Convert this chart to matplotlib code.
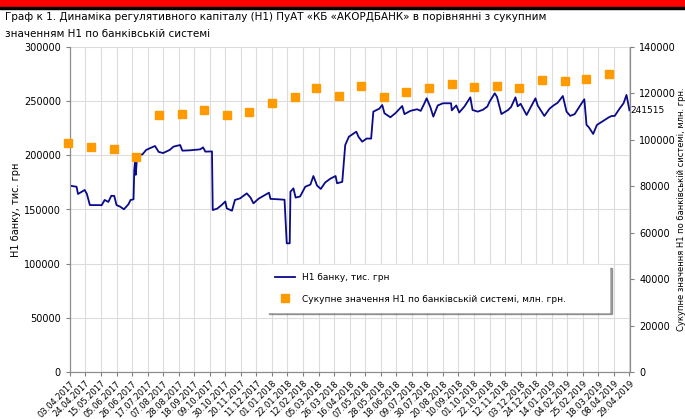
import pandas as pd
import matplotlib.pyplot as plt
from matplotlib.patches import Rectangle

# дані
bank_dates = [
    '2017-04-03', '2017-04-12', '2017-04-14', '2017-04-23', '2017-04-26', '2017-04-30',
    '2017-05-16', '2017-05-20', '2017-05-25', '2017-05-29', '2017-06-02', '2017-06-05',
    '2017-06-10', '2017-06-15', '2017-06-21', '2017-06-24', '2017-06-28', '2017-06-29',
    '2017-06-30', '2017-07-01', '2017-07-03', '2017-07-10', '2017-07-15', '2017-07-20',
    '2017-07-27', '2017-08-01', '2017-08-07', '2017-08-16', '2017-08-21', '2017-08-30',
    '2017-09-02', '2017-09-12', '2017-09-26', '2017-09-30', '2017-10-03', '2017-10-12',
    '2017-10-13', '2017-10-19', '2017-10-25', '2017-10-30', '2017-11-01', '2017-11-08',
    '2017-11-12', '2017-11-19', '2017-11-28', '2017-12-03', '2017-12-07', '2017-12-14',
    '2017-12-28', '2017-12-30', '2018-01-10', '2018-01-18', '2018-01-21', '2018-01-25',
    '2018-01-26', '2018-01-30', '2018-02-02', '2018-02-08', '2018-02-15', '2018-02-22',
    '2018-02-26', '2018-03-03', '2018-03-08', '2018-03-14', '2018-03-21', '2018-03-28',
    '2018-03-30', '2018-04-06', '2018-04-10', '2018-04-15', '2018-04-25', '2018-04-28',
    '2018-05-03', '2018-05-09', '2018-05-15', '2018-05-18', '2018-05-26', '2018-05-30',
    '2018-06-02', '2018-06-10', '2018-06-17', '2018-06-26', '2018-06-29', '2018-07-07',
    '2018-07-16', '2018-07-21', '2018-07-26', '2018-07-29', '2018-08-03', '2018-08-07',
    '2018-08-13', '2018-08-20', '2018-08-31', '2018-09-01', '2018-09-07', '2018-09-11',
    '2018-09-18', '2018-09-26', '2018-09-29', '2018-10-06', '2018-10-13', '2018-10-19',
    '2018-10-22', '2018-10-29', '2018-11-01', '2018-11-07', '2018-11-16', '2018-11-20',
    '2018-11-26', '2018-11-29', '2018-12-03', '2018-12-11', '2018-12-17', '2018-12-23',
    '2018-12-26', '2019-01-04', '2019-01-11', '2019-01-16', '2019-01-22', '2019-01-29',
    '2019-02-03', '2019-02-08', '2019-02-14', '2019-02-21', '2019-02-27', '2019-03-02',
    '2019-03-05', '2019-03-11', '2019-03-16', '2019-03-25', '2019-04-01', '2019-04-05',
    '2019-04-09', '2019-04-16', '2019-04-21', '2019-04-25', '2019-04-29',
]
bank_values = [
    172000, 171000, 164300, 168000, 164300, 154100,
    154000, 158800, 157000, 162700, 162500, 154100,
    152600, 150200, 154700, 158800, 159400, 186400,
    194100, 182000, 200300, 200800, 204900, 206500,
    208600, 203100, 202100, 205000, 208000, 209500,
    204300, 204600, 205500, 207300, 203400, 203600,
    149500, 150800, 154100, 157400, 151000, 148900,
    158800, 160300, 164900, 161000, 155700, 160000,
    165500, 159800, 159400, 159000, 118800, 118800,
    166400, 169500, 161000, 162000, 171000, 173000,
    180900, 172000, 169000, 175000, 178500, 180900,
    174200, 175500, 209500, 217200, 221800, 217000,
    212600, 215500, 215400, 240300, 243000, 246400,
    238800, 235100, 239000, 245500, 238000, 241000,
    242500, 241000, 248000, 252600, 244500, 235700,
    246000, 248000, 248000, 241500, 246000, 239500,
    245000, 253500, 241800, 240300, 242000, 245000,
    249500, 257200, 254000, 238100, 241800, 244500,
    253500, 245200, 247500, 237200, 245000, 252600,
    246000, 236300, 243000, 245800, 248500, 254700,
    240300, 236400, 238000, 245500, 251700, 228000,
    226000, 219700, 228000, 232000, 235000, 236300,
    236300, 243400, 248000, 255700, 241515,
]

system_dates = pd.date_range('2017-04-01', '2019-04-01', freq='MS')
system_values = [
    98800, 97000, 96000, 92500, 110600, 111300, 112700, 110800, 112100,
    115700, 118600, 122200, 118800, 123200, 118300, 120500, 122200,
    123900, 122600, 123200, 122200, 125800, 125400, 126400, 128500,
]

tick_labels = [
    '03.04.2017', '24.04.2017', '15.05.2017', '05.06.2017', '26.06.2017',
    '17.07.2017', '07.08.2017', '28.08.2017', '18.09.2017', '09.10.2017',
    '30.10.2017', '20.11.2017', '11.12.2017', '01.01.2018', '22.01.2018',
    '12.02.2018', '05.03.2018', '26.03.2018', '16.04.2018', '07.05.2018',
    '28.05.2018', '18.06.2018', '09.07.2018', '30.07.2018', '20.08.2018',
    '10.09.2018', '01.10.2018', '22.10.2018', '12.11.2018', '03.12.2018',
    '24.12.2018', '14.01.2019', '04.02.2019', '25.02.2019', '18.03.2019',
    '08.04.2019', '29.04.2019',
]

bank_label = 'Н1 банку, тис. грн'
system_label = 'Сукупне значення Н1 по банківській системі, млн. грн.'

plt.rcParams['font.family'] = ['DejaVu Sans']

fig = plt.figure(figsize=(6.85, 4.19), dpi=100)
ax = fig.add_axes([0.102, 0.112, 0.818, 0.776])
ax2 = ax.twinx()

# червона смуга зверху
fig.patches.append(Rectangle((0, 0.983), 1, 0.017, transform=fig.transFigure,
                             color='#ff0000', zorder=0))
fig.patches.append(Rectangle((0, 0.979), 1, 0.005, transform=fig.transFigure,
                             color='black', zorder=0))

fig.text(0.008, 0.959, 'Граф к 1. Динаміка регулятивного капіталу (Н1) ПуАТ «КБ «АКОРДБАНК» в порівнянні з сукупним',
         fontsize=7.5, ha='left', va='center')
fig.text(0.008, 0.918, 'значенням Н1 по банківській системі',
         fontsize=7.5, ha='left', va='center')

bd = pd.to_datetime(bank_dates)
line, = ax.plot(bd, bank_values, color='#0a0a8a', lw=1.3, zorder=3)
sq, = ax2.plot(system_dates, system_values, 's', color='#ff9a00', ms=6,
               ls='none', clip_on=False, zorder=3)

ticks = pd.to_datetime(tick_labels, format='%d.%m.%Y')
ax.set_xlim(ticks[0], pd.Timestamp('2019-04-30'))
ax.set_xticks(ticks)
ax.set_xticklabels(tick_labels, rotation=45, ha='right', rotation_mode='anchor',
                   fontsize=6)

ax.set_ylim(0, 300000)
ax.set_yticks(range(0, 300001, 50000))
ax.tick_params(axis='y', labelsize=7, length=3, color='#808080')
ax.tick_params(axis='x', length=3, color='#808080', pad=2)
ax2.set_ylim(0, 140000)
ax2.set_yticks(range(0, 140001, 20000))
ax2.tick_params(axis='y', labelsize=7, length=3, color='#808080')

ax.grid(True, color='#dcdcdc', lw=0.8)
ax.set_axisbelow(True)
for a in (ax, ax2):
    a.spines['top'].set_visible(False)
    for s in ('left', 'right', 'bottom'):
        a.spines[s].set_color('#8c8c8c')

ax.set_ylabel(bank_label, fontsize=7, labelpad=2)
ax2.set_ylabel(system_label, fontsize=6, labelpad=1)

ax.annotate('241515', (bd[-1], bank_values[-1]), xytext=(1, 0),
            textcoords='offset points', fontsize=6.5, va='center', ha='left',
            annotation_clip=False, zorder=5)

leg = ax2.legend([line, sq], [bank_label, system_label], loc='lower left',
                 bbox_to_anchor=(0.343, 0.172, 0.628, 0.166), mode='expand',
                 fontsize=6.5, frameon=True, fancybox=False, shadow=True,
                 labelspacing=1.4, handlelength=2.2, borderpad=0.9)
leg.get_frame().set_edgecolor('white')
leg.get_frame().set_facecolor('white')

fig.savefig('out.png', dpi=100)
